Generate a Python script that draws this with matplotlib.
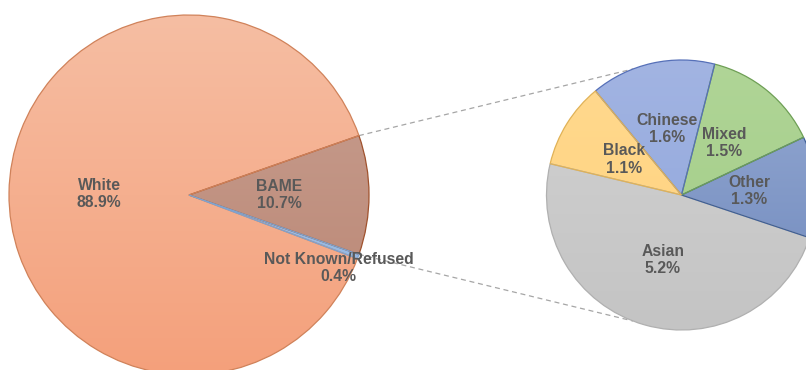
import numpy as np
import matplotlib
matplotlib.use("Agg")
import matplotlib.pyplot as plt
from matplotlib.colors import LinearSegmentedColormap

# Overall split
main_labels = ["BAME", "White", "Not Known/Refused"]
main_values = [10.7, 88.9, 0.4]

# Breakdown of the BAME share
sub_labels = ["Asian", "Other", "Mixed", "Chinese", "Black"]
sub_values = [5.2, 1.3, 1.5, 1.6, 1.1]

# (top colour, bottom colour, edge colour) per slice
main_colors = [("#C9A193", "#B98471", "#A0522D"),
               ("#F6BEA3", "#F4A07B", "#D0825A"),
               ("#A9C8EA", "#8DB3E2", "#7FA3CF")]
sub_colors = [("#D2D2D2", "#C4C4C4", "#B0B0B0"),
              ("#95AAD3", "#6F88BC", "#3F5F96"),
              ("#B0D597", "#A1CC85", "#6E9F55"),
              ("#A2B4E2", "#8EA5DC", "#5670B8"),
              ("#FFD98F", "#FFD27C", "#E0B257")]

TEXT = "#595959"
W, H = 806, 370
fig = plt.figure(figsize=(W / 100, H / 100), dpi=100)
ax = fig.add_axes([0, 0, 1, 1])
ax.set_xlim(0, W)
ax.set_ylim(0, H)
ax.set_aspect("equal")
ax.axis("off")

c1, r1 = (189.0, 175.0), 180.0
c2, r2 = (681.5, 175.0), 135.0

main_start = -sum(main_values[:1]) / sum(main_values) * 360 / 2
sub_start = 166.6

label_style = dict(color=TEXT, fontweight="bold", fontsize=11.3,
                   family="Liberation Sans", ha="center", va="center",
                   linespacing=1.2)


def gradient_fill(wedges, colors, center, radius):
    for w, (top, bot, edge) in zip(wedges, colors):
        w.set_facecolor("none")
        w.set_edgecolor(edge)
        w.set_linewidth(0.9)
        cmap = LinearSegmentedColormap.from_list("g", [bot, top])
        grad = np.linspace(0, 1, 256).reshape(-1, 1)
        im = ax.imshow(grad, cmap=cmap, origin="lower", aspect="auto",
                       extent=(center[0] - radius, center[0] + radius,
                               center[1] - radius, center[1] + radius),
                       zorder=1)
        im.set_clip_path(w)
        w.set_zorder(2)


fmt_main = [f"{l}\n{v:.1f}%" for l, v in zip(main_labels, main_values)]
fmt_sub = [f"{l}\n{v:.1f}%" for l, v in zip(sub_labels, sub_values)]

w1, t1 = ax.pie(main_values, center=c1, radius=r1, startangle=main_start,
                counterclock=True, labels=fmt_main, labeldistance=0.5,
                textprops=label_style)
gradient_fill(w1, main_colors, c1, r1)
for t in t1:
    t.set_horizontalalignment("center")
    t.set_zorder(5)
# Small slice label sits just outside its sliver
t1[2].set_position((c1[0] + 0.83 * r1, c1[1] - 0.405 * r1))

w2, t2 = ax.pie(sub_values, center=c2, radius=r2, startangle=sub_start,
                counterclock=True, labels=fmt_sub, labeldistance=0.5,
                textprops=label_style)
gradient_fill(w2, sub_colors, c2, r2)
for t in t2:
    t.set_horizontalalignment("center")
    t.set_zorder(5)

# Dashed connectors from the BAME slice to the breakdown pie
half = main_values[0] / sum(main_values) * 360 / 2
for sgn in (1, -1):
    a1 = np.deg2rad(sgn * half)
    a2 = np.deg2rad(sgn * 111)
    ax.plot([c1[0] + r1 * np.cos(a1), c2[0] + r2 * np.cos(a2)],
            [c1[1] + r1 * np.sin(a1), c2[1] + r2 * np.sin(a2)],
            color="#A6A6A6", lw=0.9, ls=(0, (4, 3)), zorder=0)

ax.set_xlim(0, W)
ax.set_ylim(0, H)
fig.savefig("out.png", dpi=100)
